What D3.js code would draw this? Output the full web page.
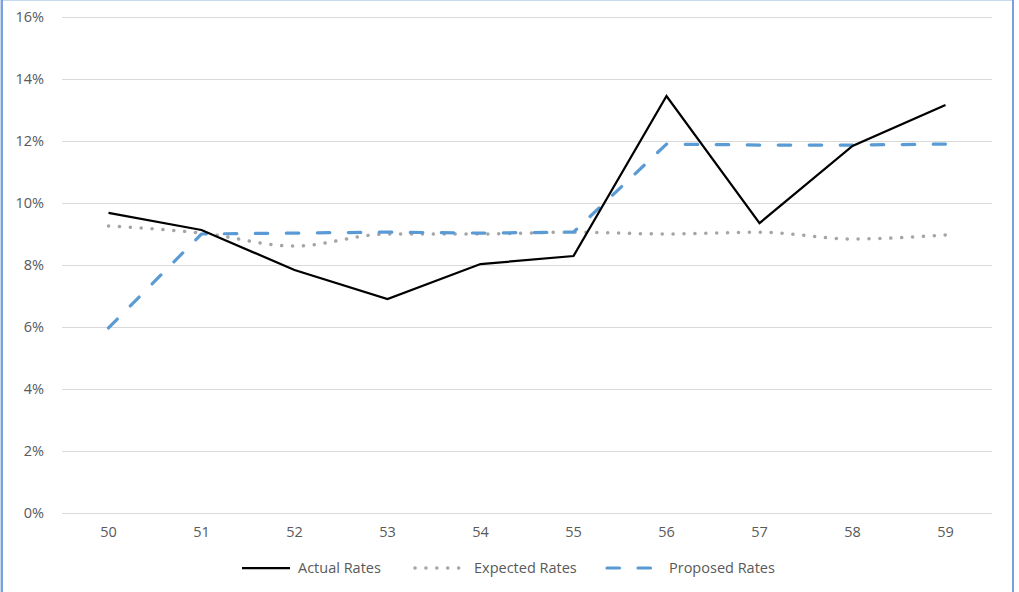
<!DOCTYPE html>
<html>
<head>
<meta charset="utf-8">
<script src="https://cdn.jsdelivr.net/npm/d3@7"></script>
<style>
html,body{margin:0;padding:0;background:#fff;}
svg{display:block;}
</style>
</head>
<body>
<svg id="chart" width="1019" height="592"></svg>
<script>
const categories = ["50","51","52","53","54","55","56","57","58","59"];
const actualRates = [0.0968, 0.0913, 0.0784, 0.0690, 0.0803, 0.0829, 0.1345, 0.0935, 0.1184, 0.1316];
const expectedRates = [0.0926, 0.0903, 0.0861, 0.0900, 0.0900, 0.0906, 0.0900, 0.0906, 0.0884, 0.0897];
const proposedRates = [0.0597, 0.0900, 0.0903, 0.0906, 0.0903, 0.0906, 0.1190, 0.1187, 0.1187, 0.1190];
const yTicks = [0, 0.02, 0.04, 0.06, 0.08, 0.10, 0.12, 0.14, 0.16];
const seriesNames = ["Actual Rates", "Expected Rates", "Proposed Rates"];

(function () {
const svg = d3.select("#chart");
const W = 1019, H = 592;
const font = "'Open Sans', 'Noto Sans', sans-serif";
const fs = 14.5;
const textColor = "#595959";

svg.append("rect").attr("x", 0.5).attr("y", 0.5).attr("width", W - 6).attr("height", H + 10)
  .attr("fill", "#fff").attr("stroke", "#c6d9f1").attr("stroke-width", 1);
svg.append("line").attr("x1", 2).attr("x2", 2).attr("y1", 0).attr("y2", H).attr("stroke", "#7f9fdc").attr("stroke-width", 2);
svg.append("line").attr("x1", 1013).attr("x2", 1013).attr("y1", 0).attr("y2", H).attr("stroke", "#7f9fdc").attr("stroke-width", 2);

const pl = 62, pr = 992, pt = 17, pb = 513;
const x = d3.scaleBand().domain(categories).range([pl, pr]);
const y = d3.scaleLinear().domain([0, 0.16]).range([pb, pt]);
const cx = d => x(d) + x.bandwidth() / 2;

const yAxis = d3.axisLeft(y).tickValues(yTicks).tickFormat(d3.format(".0%")).tickSize(-(pr - pl)).tickPadding(18);
const gy = svg.append("g").attr("transform", `translate(${pl},0)`).call(yAxis);
gy.select(".domain").remove();
gy.selectAll(".tick line").attr("stroke", "#d9d9d9").attr("stroke-width", 1);
gy.selectAll(".tick text").attr("fill", textColor).attr("font-family", font).attr("font-size", fs);

const xAxis = d3.axisBottom(x).tickSize(0).tickPadding(14);
const gx = svg.append("g").attr("transform", `translate(0,${pb})`).call(xAxis);
gx.select(".domain").remove();
gx.selectAll(".tick text").attr("fill", textColor).attr("font-family", font).attr("font-size", fs);

const lineStraight = d3.line().x((d, i) => cx(categories[i])).y(d => y(d));
const lineSmooth = d3.line().x((d, i) => cx(categories[i])).y(d => y(d)).curve(d3.curveMonotoneX);

svg.append("path").datum(expectedRates).attr("d", lineSmooth)
  .attr("fill", "none").attr("stroke", "#a5a5a5").attr("stroke-width", 3.5)
  .attr("stroke-linecap", "round").attr("stroke-dasharray", "0.1 10.8");
svg.append("path").datum(proposedRates).attr("d", lineStraight)
  .attr("fill", "none").attr("stroke", "#5b9bd5").attr("stroke-width", 3.2)
  .attr("stroke-linecap", "round").attr("stroke-linejoin", "round").attr("stroke-dasharray", "12.5 18.5");
svg.append("path").datum(actualRates).attr("d", lineStraight)
  .attr("fill", "none").attr("stroke", "#000").attr("stroke-width", 2.25)
  .attr("stroke-linejoin", "miter");

const legendY = 568;
const legend = [
  {name: seriesNames[0], x1: 242, x2: 290, tx: 298, stroke: "#000", w: 2.25, dash: null, cap: "butt"},
  {name: seriesNames[1], x1: 415, x2: 465, tx: 474, stroke: "#a5a5a5", w: 3.5, dash: "0.1 10.8", cap: "round"},
  {name: seriesNames[2], x1: 607, x2: 655, tx: 669, stroke: "#5b9bd5", w: 3.2, dash: "12.5 18.5", cap: "round"}
];
legend.forEach(l => {
  const ln = svg.append("line").attr("x1", l.x1).attr("x2", l.x2).attr("y1", legendY).attr("y2", legendY)
    .attr("stroke", l.stroke).attr("stroke-width", l.w).attr("stroke-linecap", l.cap);
  if (l.dash) ln.attr("stroke-dasharray", l.dash);
  svg.append("text").attr("x", l.tx).attr("y", legendY).attr("dy", "0.35em")
    .attr("fill", textColor).attr("font-family", font).attr("font-size", fs).text(l.name);
});
})();
</script>
</body>
</html>
